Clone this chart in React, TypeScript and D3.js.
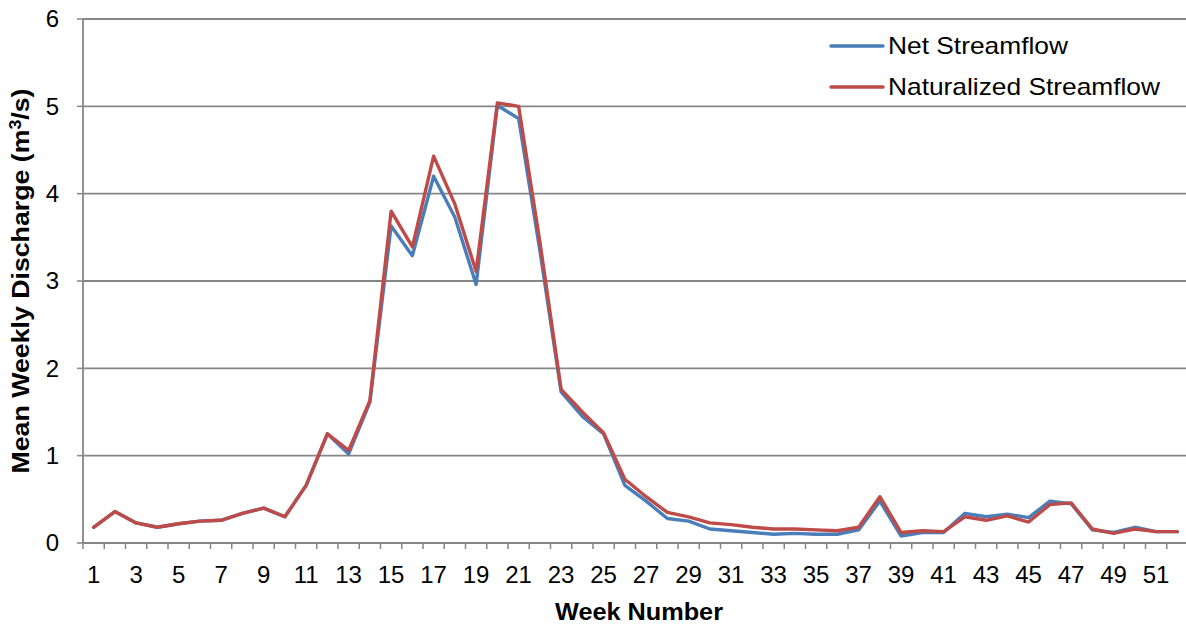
import React from "react";
import * as d3 from "d3";

const weeks: number[] = Array.from({ length: 52 }, (_, i) => i + 1);
const netStreamflow: number[] = [
  0.18, 0.36, 0.23, 0.18, 0.22, 0.25, 0.26, 0.34, 0.40, 0.30,
  0.66, 1.25, 1.02, 1.61, 3.63, 3.29, 4.20, 3.73, 2.96, 5.01,
  4.86, 3.35, 1.73, 1.45, 1.25, 0.66, 0.48, 0.28, 0.25, 0.16,
  0.14, 0.12, 0.10, 0.11, 0.10, 0.10, 0.15, 0.48, 0.08, 0.12,
  0.12, 0.34, 0.30, 0.33, 0.29, 0.48, 0.45, 0.15, 0.12, 0.18,
  0.13, 0.13,
];
const naturalizedStreamflow: number[] = [
  0.18, 0.36, 0.23, 0.18, 0.22, 0.25, 0.26, 0.34, 0.40, 0.30,
  0.66, 1.25, 1.06, 1.63, 3.80, 3.39, 4.43, 3.88, 3.11, 5.04,
  5.00, 3.45, 1.76, 1.50, 1.26, 0.73, 0.53, 0.35, 0.30, 0.23,
  0.21, 0.18, 0.16, 0.16, 0.15, 0.14, 0.18, 0.53, 0.12, 0.14,
  0.13, 0.30, 0.26, 0.31, 0.24, 0.44, 0.46, 0.16, 0.11, 0.16,
  0.13, 0.13,
];
const yTicks: number[] = [0, 1, 2, 3, 4, 5, 6];
const seriesNames: string[] = ["Net Streamflow", "Naturalized Streamflow"];
const seriesColors: string[] = ["#4A7EBB", "#BE4B48"];

export default function App() {
  const W = 1186, H = 627;
  const left = 83, right = 1188, top = 19, bottom = 543;
  const x = d3.scaleBand<number>().domain(weeks).range([left, right]);
  const y = d3.scaleLinear().domain([0, 6]).range([bottom, top]);
  const cx = (w: number) => (x(w) as number) + x.bandwidth() / 2;
  const line = d3
    .line<number>()
    .x((_, i) => cx(weeks[i]))
    .y((d) => y(d));
  const series = [netStreamflow, naturalizedStreamflow];
  const font = "Arial, 'Liberation Sans', sans-serif";
  const gridColor = "#868686";
  const legendWidths = [180, 272];
  return (
    <svg width={W} height={H} style={{ position: "absolute", left: 0, top: 0, background: "#fff" }} fontFamily={font}>
      {yTicks.map((t) => (
        <g key={t}>
          {t > 0 && (
            <line x1={left} x2={W} y1={y(t)} y2={y(t)} stroke={gridColor} strokeWidth={1.8} />
          )}
          <line x1={left - 6} x2={left} y1={y(t)} y2={y(t)} stroke={gridColor} strokeWidth={1.5} />
          <text x={59} y={y(t)} dy="0.35em" textAnchor="end" fontSize={24} fill="#000">
            {t}
          </text>
        </g>
      ))}
      <line x1={left} x2={left} y1={top} y2={bottom} stroke={gridColor} strokeWidth={1.8} />
      <line x1={left} x2={W} y1={bottom} y2={bottom} stroke={gridColor} strokeWidth={1.8} />
      {weeks.map((w) => (
        <line key={"t" + w} x1={x(w) as number} x2={x(w) as number} y1={bottom} y2={bottom + 6} stroke={gridColor} strokeWidth={1.5} />
      ))}
      {weeks.filter((w) => w % 2 === 1).map((w) => (
        <text key={"l" + w} x={cx(w)} y={583} textAnchor="middle" fontSize={24} fill="#000">
          {w}
        </text>
      ))}
      {series.map((s, i) => (
        <path key={i} d={line(s) || ""} fill="none" stroke={seriesColors[i]} strokeWidth={3.4} strokeLinejoin="round" strokeLinecap="round" />
      ))}
      {seriesNames.map((n, i) => (
        <g key={n}>
          <line x1={831} x2={883} y1={46 + i * 41} y2={46 + i * 41} stroke={seriesColors[i]} strokeWidth={3.4} strokeLinecap="round" />
          <text x={888} y={46 + i * 41} dy="0.35em" fontSize={24} fill="#000" textLength={legendWidths[i]} lengthAdjust="spacingAndGlyphs">
            {n}
          </text>
        </g>
      ))}
      <text x={639} y={620} textAnchor="middle" fontSize={24} fontWeight="bold" fill="#000" textLength={168} lengthAdjust="spacingAndGlyphs">
        Week Number
      </text>
      <text transform={`translate(29, 281) rotate(-90)`} textAnchor="middle" fontSize={24} fontWeight="bold" fill="#000" textLength={385} lengthAdjust="spacingAndGlyphs">
        Mean Weekly Discharge (m<tspan dy={-8} fontSize={16}>3</tspan><tspan dy={8}>/s)</tspan>
      </text>
    </svg>
  );
}
